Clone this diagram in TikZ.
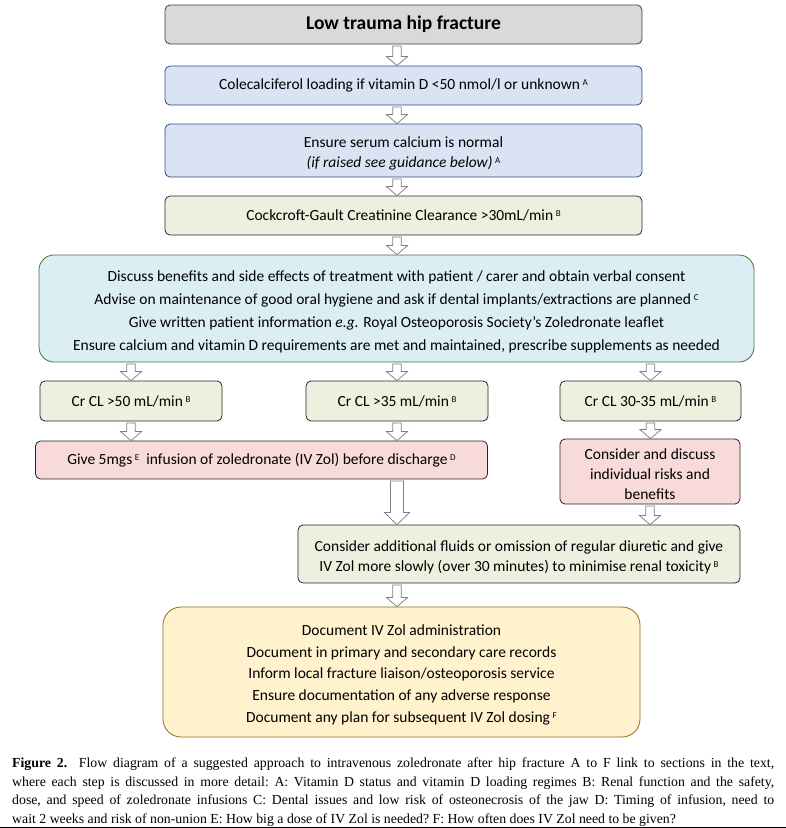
\documentclass[tikz,border=0pt]{standalone}
\usepackage{fontspec}
\setmainfont{Carlito}
\newfontfamily\capfont{Liberation Serif}
\usetikzlibrary{calc}
\definecolor{grayfill}{HTML}{D9D9D9}
\definecolor{grayline}{HTML}{3F3F3F}
\definecolor{bluefill}{HTML}{DAE3F3}
\definecolor{blueline}{HTML}{2F4B7C}
\definecolor{greenfill}{HTML}{EBF1DE}
\definecolor{greenline}{HTML}{262626}
\definecolor{cyanfill}{HTML}{DAEEF3}
\definecolor{cyanline}{HTML}{4E6B3F}
\definecolor{pinkfill}{HTML}{F9DADA}
\definecolor{docfill}{HTML}{FFF2CC}
\definecolor{docline}{HTML}{8C6D1F}
\definecolor{arrowgray}{HTML}{7F7F7F}
\newcommand{\upl}[1]{\,\raisebox{0.5ex}{\fontsize{9}{9}\selectfont #1}}
\newcommand{\tstrut}{\rule{0pt}{16.5pt}}
\def\sw{4.3}\def\hw{10.5}\def\hl{9}
\tikzset{
  box/.style={rectangle, rounded corners=5pt, line width=0.8pt, align=center,
    inner sep=0pt, font=\fontsize{15.5}{20}\selectfont},
  graybox/.style={box, fill=grayfill, draw=grayline},
  bluebox/.style={box, fill=bluefill, draw=blueline},
  greenbox/.style={box, fill=greenfill, draw=greenline},
  pinkbox/.style={box, fill=pinkfill, draw=greenline},
  cyanbox/.style={box, rounded corners=15pt, fill=cyanfill, draw=cyanline, font=\fontsize{15.5}{23}\selectfont},
  docbox/.style={box, rounded corners=18pt, fill=docfill, draw=docline, font=\fontsize{15.5}{21.8}\selectfont},
  blk/.style={draw=arrowgray, fill=white, line width=0.75pt, line join=miter,
    to path={($(\tikztostart)+(-\sw,1.5)$) -- ($(\tikztotarget)+(-\sw,-\hl)$)
      -- ($(\tikztotarget)+(-\hw,-\hl)$) -- (\tikztotarget)
      -- ($(\tikztotarget)+(\hw,-\hl)$) -- ($(\tikztotarget)+(\sw,-\hl)$)
      -- ($(\tikztostart)+(\sw,1.5)$) -- cycle}},
  blkwide/.style={blk, /utils/exec={\def\sw{6.5}\def\hw{12.5}\def\hl{12}}},
  capline/.style={anchor=base west, inner sep=0pt, font=\capfont\fontsize{13.8}{18}\selectfont\frenchspacing}
}
\begin{document}
\begin{tikzpicture}[x=1pt,y=-1pt]
\useasboundingbox (0,0) rectangle (786,828);

\node[graybox, minimum width=477pt, minimum height=39pt] (top) at (403.5,24.5)
  {\fontsize{19.5}{22}\selectfont\bfseries Low trauma hip fracture};
\node[bluebox, minimum width=477pt, minimum height=39pt] (cole) at (403.5,85.5)
  {Colecalciferol loading if vitamin D <50 nmol/l or unknown\upl{A}};
\node[bluebox, minimum width=477pt, minimum height=53pt] (serum) at (403.5,150.5)
  {\tstrut Ensure serum calcium is normal\\ \textit{(if raised see guidance below)}\upl{A}};
\node[greenbox, minimum width=477pt, minimum height=39pt] (cock) at (403.5,215.5)
  {Cockcroft-Gault Creatinine Clearance >30mL/min\upl{B}};
\node[cyanbox, minimum width=715pt, minimum height=107pt] (big) at (396.5,308.5)
  {\tstrut Discuss benefits and side effects of treatment with patient / carer and obtain verbal consent\\
   Advise on maintenance of good oral hygiene and ask if dental implants/extractions are planned\upl{C}\\
   Give written patient information \textit{e.g.} Royal Osteoporosis Society’s Zoledronate leaflet\\
   Ensure calcium and vitamin D requirements are met and maintained, prescribe supplements as needed};
\node[greenbox, minimum width=182pt, minimum height=40pt] (cr50) at (131,401)
  {Cr CL >50 mL/min\upl{B}};
\node[greenbox, minimum width=182pt, minimum height=40pt] (cr35) at (397,401)
  {Cr CL >35 mL/min\upl{B}};
\node[greenbox, minimum width=181pt, minimum height=40pt] (cr30) at (650.5,401)
  {Cr CL 30-35 mL/min\upl{B}};
\node[pinkbox, minimum width=452pt, minimum height=38pt] (give) at (261.5,460)
  {Give 5mgs\upl{E}\ \ infusion of zoledronate (IV Zol) before discharge\upl{D}};
\node[pinkbox, minimum width=180pt, minimum height=65pt] (disc) at (650,471.5)
  {\tstrut Consider and discuss\\ individual risks and\\ benefits};
\node[greenbox, minimum width=442pt, minimum height=58pt] (fluid) at (519,554)
  {\tstrut Consider additional fluids or omission of regular diuretic and give\\
   IV Zol more slowly (over 30 minutes) to minimise renal toxicity\upl{B}};
\node[docbox, minimum width=477pt, minimum height=130pt] (doc) at (401.5,672)
  {\tstrut Document IV Zol administration\\
   Document in primary and secondary care records\\
   Inform local fracture liaison/osteoporosis service\\
   Ensure documentation of any adverse response\\
   Document any plan for subsequent IV Zol dosing\upl{F}};

\draw[blk] (top.south -| cr35.center) to (cole.north -| cr35.center);
\draw[blk] (cole.south -| cr35.center) to (serum.north -| cr35.center);
\draw[blk] (serum.south -| cr35.center) to (cock.north -| cr35.center);
\draw[blk] (cock.south -| cr35.center) to (big.north -| cr35.center);
\draw[blk] (big.south -| cr50.center) to (cr50.north);
\draw[blk] (big.south -| cr35.center) to (cr35.north);
\draw[blk] (big.south -| cr30.center) to (cr30.north);
\draw[blk] (cr50.south) to (give.north -| cr50.center);
\draw[blk] (cr35.south) to (give.north -| cr35.center);
\draw[blk] (cr30.south) to (disc.north -| cr30.center);
\draw[blkwide] (give.south -| cr35.center) to (fluid.north -| cr35.center);
\draw[blk] (disc.south) to (fluid.north -| disc.center);
\draw[blk] (fluid.south -| cr35.center) to (doc.north -| cr35.center);

\node[capline] (cap1) at (12,767.5) {\makebox[762pt][s]{\textbf{Figure 2.}\ \ Flow diagram of a suggested approach to intravenous zoledronate after hip fracture A to F link to sections in the text,}};
\node[capline] (cap2) at (12,786) {\makebox[762pt][s]{where each step is discussed in more detail: A: Vitamin D status and vitamin D loading regimes B: Renal function and the safety,}};
\node[capline] (cap3) at (12,804.5) {\makebox[762pt][s]{dose, and speed of zoledronate infusions C: Dental issues and low risk of osteonecrosis of the jaw D: Timing of infusion, need to}};
\node[capline] (cap4) at (12,823) {wait 2 weeks and risk of non-union E: How big a dose of IV Zol is needed? F: How often does IV Zol need to be given?};
\draw[line width=0.8pt] (0,827.3) -- (786,827.3);
\end{tikzpicture}
\end{document}
